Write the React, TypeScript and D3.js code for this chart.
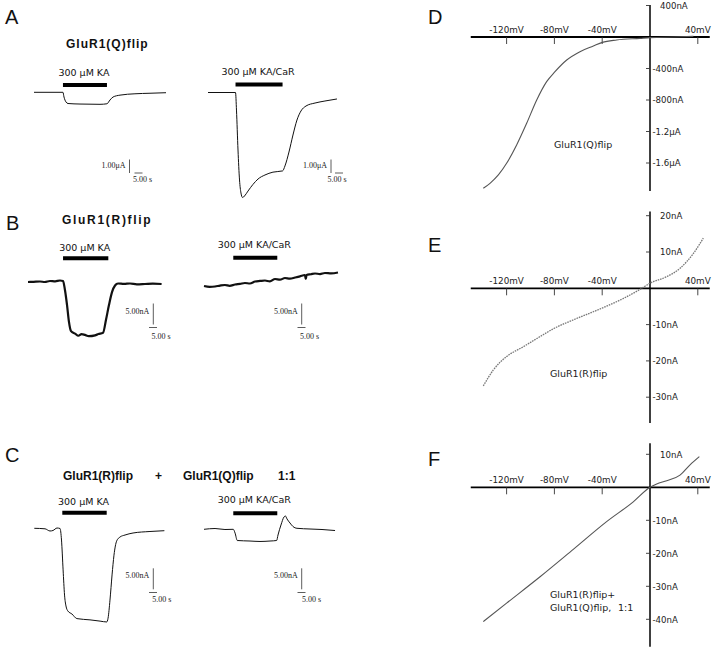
import React from 'react';
import * as d3 from 'd3';

// ---------- Left column: current traces (time in s, current in µA or nA) ----------
const A1_T = [0, 18.1, 18.75, 20, 21.25, 28.75, 41.25, 45.6, 47.5, 49.4, 53.75, 63.1, 72.5, 82.5];
const A1_I = [0, 0, -0.35, -0.72, -0.83, -0.87, -0.89, -0.85, -0.57, -0.35, -0.21, -0.11, -0.07, -0.03];
const A1_APPLY = [18.1, 45.6];

const A2_T = [0, 17.2, 17.8, 18.75, 19.7, 20.6, 21.6, 22.8, 25, 28.1, 31.25, 35.6, 40.6, 46.6, 48.1, 50.6, 53.1, 55.6, 58.1, 61.25, 66.9, 73.1, 80.6];
const A2_I = [0, 0, -1.3, -4.26, -6.48, -7.44, -7.78, -7.67, -7.3, -6.81, -6.41, -6.11, -5.9, -5.81, -5.44, -4.41, -3.15, -2.04, -1.37, -1.0, -0.78, -0.63, -0.48];
const A2_APPLY = [17.2, 46.6];

const B1_T = [0, 3.5, 7.5, 10.5, 13.75, 17, 20, 21.9, 23.1, 24.4, 25.6, 26.9, 29.4, 31.5, 33.5, 35.6, 38, 41.9, 44, 46.9, 48.75, 50.6, 52.5, 54.4, 56.25, 60, 63.75, 68, 73.1, 78, 83.5];
const B1_I = [0, 0.05, 0.12, 0.0, 0.24, 0.15, 0.36, 0.24, -1.9, -5.5, -9.5, -11.7, -12.3, -12.8, -12.4, -12.6, -12.9, -12.7, -12.4, -12.1, -9.0, -5.5, -2.4, -0.83, -0.36, -0.45, -0.36, -0.55, -0.48, -0.4, -0.48];
const B1_APPLY = [21.9, 50.2];

const B2_T = [0, 3.5, 6.9, 10, 13.1, 16, 19.4, 22.5, 25.6, 28.7, 31.9, 35, 38.1, 41.2, 44.4, 47.5, 50.6, 53.7, 56.9, 60, 63.1, 63.6, 64.1, 66.8, 69.4, 72.5, 75.6, 79.5, 83.75];
const B2_I = [0, -0.2, -0.12, 0.1, 0.24, 0.05, 0.36, 0.5, 0.71, 0.6, 1.07, 1.2, 1.31, 1.1, 1.67, 1.5, 1.9, 1.75, 2.02, 2.3, 2.62, 1.67, 2.62, 2.8, 2.98, 2.85, 3.1, 3.0, 3.21];
const B2_APPLY = [18.3, 45.8];

const C1_T = [0, 6.7, 9.8, 11.7, 14.2, 16.1, 17, 18, 18.9, 19.8, 21, 23.5, 26.6, 34.8, 41.1, 45.25, 46.1, 47.3, 48.6, 49.8, 51.5, 53.6, 56.7, 61.7, 72.3, 81.3];
const C1_I = [0, -0.12, -0.64, -0.52, 0.07, -0.05, -2.79, -9.9, -15.9, -18.5, -19.7, -20.4, -21.5, -21.8, -22.1, -22.3, -21.4, -17.1, -11.1, -6.4, -3.0, -2.07, -1.6, -1.12, -0.76, -0.57];
const C1_APPLY = [17.5, 45.25];

const C2_T = [0, 6.9, 13.1, 18.3, 19.4, 20.8, 28.75, 35, 41.25, 45.4, 46.25, 48.1, 50, 50.9, 51.9, 53.75, 55.6, 58.1, 66.25, 73.75, 81.9];
const C2_I = [0, 0.19, -0.05, 0, -0.88, -2.67, -2.79, -2.9, -2.79, -2.67, -1.36, 1.02, 2.93, 3.17, 2.45, 1.5, 0.67, 0.24, 0.07, -0.05, -0.29];
const C2_APPLY = [18.3, 45.8];

// ---------- Right column: I-V curves (mV, nA) ----------
const D_MV = [-139.5, -133.9, -126.9, -120, -111.6, -103.2, -94.8, -86.5, -79.5, -69.7, -58.6, -47.4, -39.9, -27.9, -8.4, 0, 19.5, 36.3];
const D_NA = [-1921, -1858, -1752, -1604, -1371, -1096, -800, -567, -440, -292, -186, -114, -68, -38, -17, -8, 0, 8];
const E_MV = [-139.5, -131.1, -120, -106, -92, -80, -64.2, -40.4, -22.3, -8.4, 0, 14, 25.1, 36.3, 44.6];
const E_NA = [-26.9, -22.5, -18.8, -16.1, -13.3, -11.0, -8.7, -5.5, -2.8, -0.3, 1.4, 3.2, 5.5, 9.6, 13.8];
const F_MV = [-139.5, -120, -92, -64.2, -36.3, -14, 0, 5.6, 14, 25.1, 33.5, 41.3];
const F_NA = [-40.7, -35.1, -27.1, -18.8, -10.4, -4.4, 0, 1.0, 2.0, 3.7, 6.8, 9.3];

const X_TICKS = [-120, -80, -40, 40];
const X_TICK_LABELS = ['-120mV', '-80mV', '-40mV', '40mV'];
const D_TICKS = [400, -400, -800, -1200, -1600];
const D_TICK_LABELS = ['400nA', '-400nA', '-800nA', '-1.2μA', '-1.6μA'];
const E_TICKS = [20, 10, -10, -20, -30];
const E_TICK_LABELS = ['20nA', '10nA', '-10nA', '-20nA', '-30nA'];
const F_TICKS = [10, -10, -20, -30, -40];
const F_TICK_LABELS = ['10nA', '-10nA', '-20nA', '-30nA', '-40nA'];

const SANS = 'DejaVu Sans, Verdana, sans-serif';
const HELV = 'Liberation Sans, Arial, sans-serif';
const SERIF = 'Liberation Serif, Times New Roman, serif';

const PX_PER_S = 1.6;

type TraceProps = {
  t: number[]; i: number[]; x0: number; y0: number; pxPerUnit: number;
  apply: number[]; barY: number; label: string; labelY: number; sw: number;
  sb: { vx: number; vBottom: number; unit: number; vLabel: string; hx: number; hy: number; hLabelX: number; hLabelY: number; vLabelY: number };
};

function Trace(p: TraceProps) {
  const x = d3.scaleLinear().domain([0, 1]).range([p.x0, p.x0 + PX_PER_S]);
  const y = d3.scaleLinear().domain([0, 1]).range([p.y0, p.y0 - p.pxPerUnit]);
  const line = d3.line<number>().x((d, k) => x(p.t[k])).y((d) => y(d)).curve(d3.curveMonotoneX);
  const bx0 = x(p.apply[0]);
  const bx1 = x(p.apply[1]);
  const vLen = y(0) - y(p.sb.unit);
  const hLen = x(5) - x(0);
  return (
    <g>
      <text x={(bx0 + bx1) / 2 - 1} y={p.labelY} fontFamily={SANS} fontSize={9.5} textAnchor="middle" fill="#111">
        {p.label}
      </text>
      <line x1={bx0} x2={bx1} y1={p.barY} y2={p.barY} stroke="#000" strokeWidth={4} />
      <path d={line(p.i) || ''} fill="none" stroke="#111" strokeWidth={p.sw} strokeLinejoin="round" />
      <line x1={p.sb.vx} x2={p.sb.vx} y1={p.sb.vBottom - vLen} y2={p.sb.vBottom} stroke="#333" strokeWidth={0.8} />
      <line x1={p.sb.hx} x2={p.sb.hx + hLen} y1={p.sb.hy} y2={p.sb.hy} stroke="#333" strokeWidth={0.8} />
      <text x={p.sb.vx - 4} y={p.sb.vLabelY} fontFamily={SERIF} fontSize={8} textAnchor="end" fill="#222">{p.sb.vLabel}</text>
      <text x={p.sb.hLabelX} y={p.sb.hLabelY} fontFamily={SERIF} fontSize={8} fill="#222">5.00 s</text>
    </g>
  );
}

const xIV = d3.scaleLinear().domain([-150, 50]).range([470.75, 709.75]);

type IVProps = {
  mv: number[]; na: number[]; y0: number; unit: number; pxPerUnit: number;
  ticks: number[]; tickLabels: string[]; yTop: number; yBottom: number;
  axisW: number; color: string; dash?: string; curveW: number;
};

function IVPanel(p: IVProps) {
  const y = d3.scaleLinear().domain([0, p.unit]).range([p.y0, p.y0 - p.pxPerUnit]);
  const pts = p.mv.map((m, k) => [m, p.na[k]] as [number, number]);
  const line = d3.line<[number, number]>().x((d) => xIV(d[0])).y((d) => y(d[1])).curve(d3.curveMonotoneX);
  const ax = xIV(0);
  const ay = y(0);
  const [xa, xb] = xIV.range();
  return (
    <g>
      <line x1={xa} x2={xb} y1={ay} y2={ay} stroke="#000" strokeWidth={p.axisW} />
      <line x1={ax} x2={ax} y1={p.yTop} y2={p.yBottom} stroke="#000" strokeWidth={1.5} />
      {X_TICKS.map((v, k) => (
        <g key={'x' + k}>
          <line x1={xIV(v)} x2={xIV(v)} y1={ay} y2={ay + 7} stroke="#333" strokeWidth={0.9} />
          <text x={xIV(v)} y={ay - 4.5} fontFamily={SANS} fontSize={8.8} textAnchor="middle" fill="#222">{X_TICK_LABELS[k]}</text>
        </g>
      ))}
      {p.ticks.map((v, k) => (
        <g key={'y' + k}>
          <line x1={ax - 4} x2={ax} y1={y(v)} y2={y(v)} stroke="#333" strokeWidth={0.9} />
          <text x={p.tickLabels[k].startsWith('-') ? ax + 2.5 : ax + 10} y={y(v) + 3.2} fontFamily={SANS} fontSize={8.6} fill="#222">{p.tickLabels[k]}</text>
        </g>
      ))}
      <path d={line(pts) || ''} fill="none" stroke={p.color} strokeWidth={p.curveW} strokeDasharray={p.dash} />
    </g>
  );
}

export default function App() {
  return (
    <svg width={720} height={658} style={{ position: 'absolute', left: 0, top: 0, background: '#fff' }}>
      <rect width={720} height={658} fill="#fff" />
      {/* Panel letters */}
      <text x={5} y={24} fontFamily={HELV} fontSize={20} fill="#111">A</text>
      <text x={6} y={230} fontFamily={HELV} fontSize={20} fill="#111">B</text>
      <text x={5} y={462} fontFamily={HELV} fontSize={20} fill="#111">C</text>
      <text x={428} y={24} fontFamily={HELV} fontSize={20} fill="#111">D</text>
      <text x={428} y={252} fontFamily={HELV} fontSize={20} fill="#111">E</text>
      <text x={428} y={466} fontFamily={HELV} fontSize={20} fill="#111">F</text>

      {/* Titles */}
      <text x={66} y={47.5} fontFamily={HELV} fontSize={12} fontWeight="bold" letterSpacing={1} fill="#111">GluR1(Q)flip</text>
      <text x={62} y={223.5} fontFamily={HELV} fontSize={12} fontWeight="bold" letterSpacing={1.7} fill="#111">GluR1(R)flip</text>
      <text x={63} y={479.5} fontFamily={HELV} fontSize={12} fontWeight="bold" fill="#111">GluR1(R)flip</text>
      <text x={158.5} y={479.5} fontFamily={HELV} fontSize={12} fontWeight="bold" textAnchor="middle" fill="#111">+</text>
      <text x={183} y={479.5} fontFamily={HELV} fontSize={12} fontWeight="bold" fill="#111">GluR1(Q)flip</text>
      <text x={278} y={479.5} fontFamily={HELV} fontSize={12} fontWeight="bold" fill="#111">1:1</text>

      {/* Panel A */}
      <Trace t={A1_T} i={A1_I} x0={34} y0={92.3} pxPerUnit={13.5} apply={A1_APPLY} barY={85} label="300 μM KA" labelY={76} sw={1}
        sb={{ vx: 129.5, vBottom: 173, unit: 1, vLabel: '1.00μA', vLabelY: 168, hx: 134.5, hy: 173, hLabelX: 133, hLabelY: 182 }} />
      <Trace t={A2_T} i={A2_I} x0={208} y0={92.5} pxPerUnit={13.5} apply={A2_APPLY} barY={84.5} label="300 μM KA/CaR" labelY={75} sw={1}
        sb={{ vx: 331, vBottom: 173, unit: 1, vLabel: '1.00μA', vLabelY: 168, hx: 335, hy: 173, hLabelX: 327.5, hLabelY: 182 }} />

      {/* Panel B */}
      <Trace t={B1_T} i={B1_I} x0={28} y0={282} pxPerUnit={4.2} apply={B1_APPLY} barY={258.3} label="300 μM KA" labelY={250.5} sw={2.2}
        sb={{ vx: 153.3, vBottom: 324.5, unit: 5, vLabel: '5.00nA', vLabelY: 313.5, hx: 149, hy: 327.5, hLabelX: 151.5, hLabelY: 339 }} />
      <Trace t={B2_T} i={B2_I} x0={204} y0={286} pxPerUnit={4.2} apply={B2_APPLY} barY={257.7} label="300 μM KA/CaR" labelY={247.5} sw={2.2}
        sb={{ vx: 301.7, vBottom: 324.5, unit: 5, vLabel: '5.00nA', vLabelY: 313.5, hx: 297.5, hy: 327.5, hLabelX: 300, hLabelY: 339 }} />

      {/* Panel C */}
      <Trace t={C1_T} i={C1_I} x0={34.3} y0={528.3} pxPerUnit={4.2} apply={C1_APPLY} barY={512.7} label="300 μM KA" labelY={505} sw={1}
        sb={{ vx: 153.3, vBottom: 589.3, unit: 5, vLabel: '5.00nA', vLabelY: 578, hx: 149, hy: 592.5, hLabelX: 152.3, hLabelY: 602 }} />
      <Trace t={C2_T} i={C2_I} x0={204} y0={529.3} pxPerUnit={4.2} apply={C2_APPLY} barY={513.3} label="300 μM KA/CaR" labelY={503} sw={1}
        sb={{ vx: 301.7, vBottom: 589.3, unit: 5, vLabel: '5.00nA', vLabelY: 578, hx: 297.5, hy: 592.5, hLabelX: 302, hLabelY: 602 }} />

      {/* Panel D */}
      <IVPanel mv={D_MV} na={D_NA} y0={37} unit={400} pxPerUnit={31.5} ticks={D_TICKS} tickLabels={D_TICK_LABELS}
        yTop={5} yBottom={191} axisW={2} color="#555" curveW={1.1} />
      <text x={554} y={148} fontFamily={SANS} fontSize={9.5} fill="#222">GluR1(Q)flip</text>

      {/* Panel E */}
      <IVPanel mv={E_MV} na={E_NA} y0={288.3} unit={10} pxPerUnit={36.3} ticks={E_TICKS} tickLabels={E_TICK_LABELS}
        yTop={211.5} yBottom={423} axisW={1.8} color="#777" dash="1.6 0.9" curveW={1.3} />
      <text x={550} y={377} fontFamily={SANS} fontSize={9.5} fill="#222">GluR1(R)flip</text>

      {/* Panel F */}
      <IVPanel mv={F_MV} na={F_NA} y0={487.3} unit={10} pxPerUnit={33} ticks={F_TICKS} tickLabels={F_TICK_LABELS}
        yTop={443.3} yBottom={646.7} axisW={1.8} color="#555" curveW={1.1} />
      <text x={550} y={598} fontFamily={SANS} fontSize={9.5} fill="#222">GluR1(R)flip+</text>
      <text x={550} y={611} fontFamily={SANS} fontSize={9.5} fill="#222">GluR1(Q)flip,</text>
      <text x={618} y={611} fontFamily={SANS} fontSize={9.5} fill="#222">1:1</text>
    </svg>
  );
}
